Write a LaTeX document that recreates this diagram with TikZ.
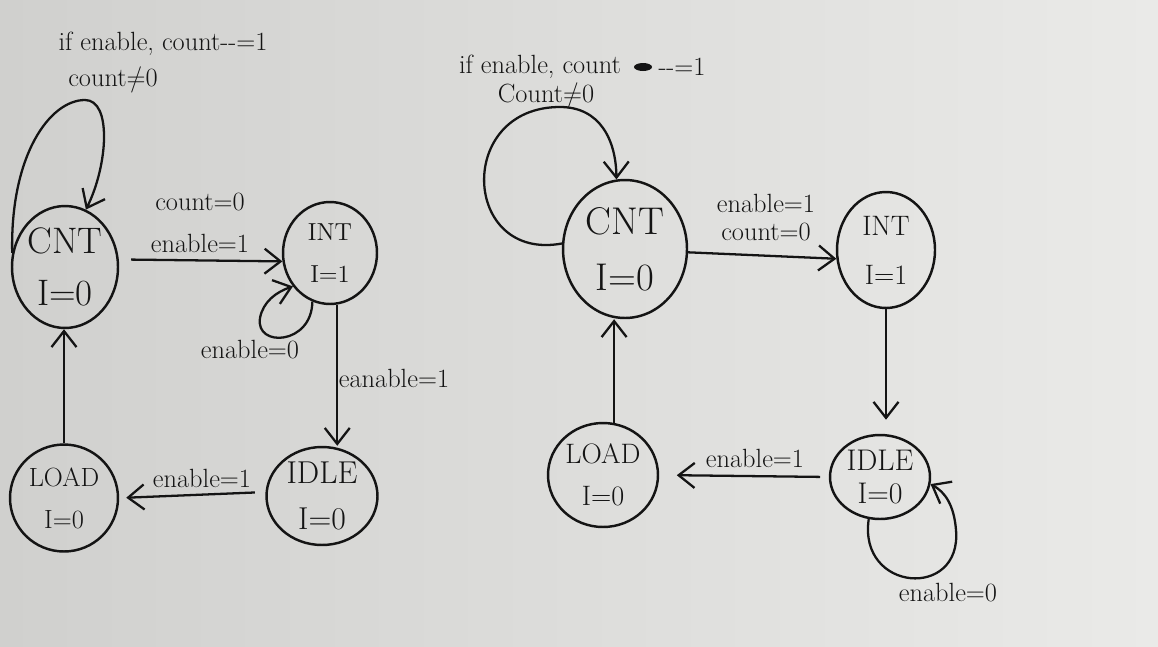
\documentclass[tikz,border=0pt]{standalone}
\usetikzlibrary{shapes.geometric,arrows.meta}
\definecolor{paperL}{RGB}{208,208,206}
\definecolor{paperR}{RGB}{234,234,232}
\definecolor{ink}{RGB}{20,20,20}
\newcommand{\notequal}{\ooalign{=\cr\hidewidth/\hidewidth\cr}}
\begin{document}
\begin{tikzpicture}[x=0.02cm,y=-0.02cm,
  st/.style={draw=ink, ellipse, line width=1.4pt, inner sep=0pt, align=center, text=ink},
  tr/.style={draw=ink, line width=1.3pt, -{Straight Barb[length=3.2mm,width=5mm,line width=1.3pt]}},
  lbl/.style={font=\fontsize{15}{17}\selectfont, inner sep=1pt, text=ink}]
\shade[left color=paperL, right color=paperR] (0,0) rectangle (1158,646);
\useasboundingbox (0,0) rectangle (1158,646);

% ---------- left machine ----------
\node[st, minimum width=2.12cm, minimum height=2.44cm, font=\fontsize{21}{30}\selectfont] (cntA) at (65,267) {CNT\\I=0};
\node[st, minimum width=1.88cm, minimum height=2.04cm, font=\fontsize{14}{24}\selectfont] (intA) at (330,253) {INT\\I=1};
\node[st, minimum width=2.16cm, minimum height=2.14cm, font=\fontsize{15}{24}\selectfont] (loadA) at (64,498) {LOAD\\I=0};
\node[st, minimum width=2.22cm, minimum height=1.96cm, font=\fontsize{18}{26}\selectfont] (idleA) at (322,496) {IDLE\\I=0};

\draw[tr] (cntA.165) .. controls (10,155) and (50,100) .. (85,100) .. controls (112,100) and (108,165) .. (cntA.70);
\draw[tr, shorten <=7pt] (cntA.8) -- (intA.190);
\draw[tr] (intA.250) .. controls (312,345) and (255,348) .. (260,318) .. controls (263,302) and (276,292) .. (intA.222);
\draw[tr] (intA.-82) -- (intA.-82 |- idleA.north);
\draw[tr, shorten <=6pt, shorten >=4pt] (idleA.176) -- (loadA.east);
\draw[tr] (loadA.north) -- (loadA.north |- cntA.south);

\node[lbl] (topA) at (163,44) {if enable, count-\kern0pt-=1};
\node[lbl] (condA) at (113,81) {count\notequal0};
\node[lbl] (c0A) at (200,202) {count=0};
\node[lbl] (e1A) at (200,243) {enable=1};
\node[lbl] (e0A) at (250,350) {enable=0};
\node[lbl] (eaA) at (394,378) {eanable=1};
\node[lbl] (e1bA) at (202,478) {enable=1};

% ---------- right machine ----------
\node[st, minimum width=2.48cm, minimum height=2.76cm, font=\fontsize{22}{32}\selectfont] (cntB) at (625,249) {CNT\\I=0};
\node[st, minimum width=1.96cm, minimum height=2.32cm, font=\fontsize{16}{28}\selectfont] (intB) at (886,250) {INT\\I=1};
\node[st, minimum width=2.2cm, minimum height=2.08cm, font=\fontsize{16}{24}\selectfont] (loadB) at (603,475) {LOAD\\I=0};
\node[st, minimum width=2.0cm, minimum height=1.68cm, font=\fontsize{17}{19}\selectfont] (idleB) at (880,477) {IDLE\\I=0};

\draw[tr] (cntB.175) .. controls (462,262) and (455,107) .. (560,107) .. controls (600,107) and (616,140) .. (cntB.97);
\draw[tr] (cntB.-3) -- (intB.190);
\draw[tr, shorten >=8pt] (intB.south) -- (intB.south |- idleB.north);
\draw[tr, shorten <=5pt, shorten >=10pt] (idleB.west) -- (loadB.east);
\draw[tr] (loadB.78) -- (loadB.78 |- cntB.south);
\draw[tr] (idleB.255) .. controls (858,592) and (962,600) .. (956,530) .. controls (954,505) and (945,492) .. (idleB.-8);

\node[lbl] (topB) at (540,67) {if enable, count};
\fill[ink] (643,67) ellipse [x radius=9, y radius=4];
\node[lbl] (topB2) at (682,67) {-\kern0pt-=1};
\node[lbl] (condB) at (546,97) {Count\notequal0};
\node[lbl] (e1B) at (766,203) {enable=1};
\node[lbl] (c0B) at (766,232) {count=0};
\node[lbl] (e1bB) at (755,458) {enable=1};
\node[lbl] (e0B) at (948,593) {enable=0};
\end{tikzpicture}
\end{document}
